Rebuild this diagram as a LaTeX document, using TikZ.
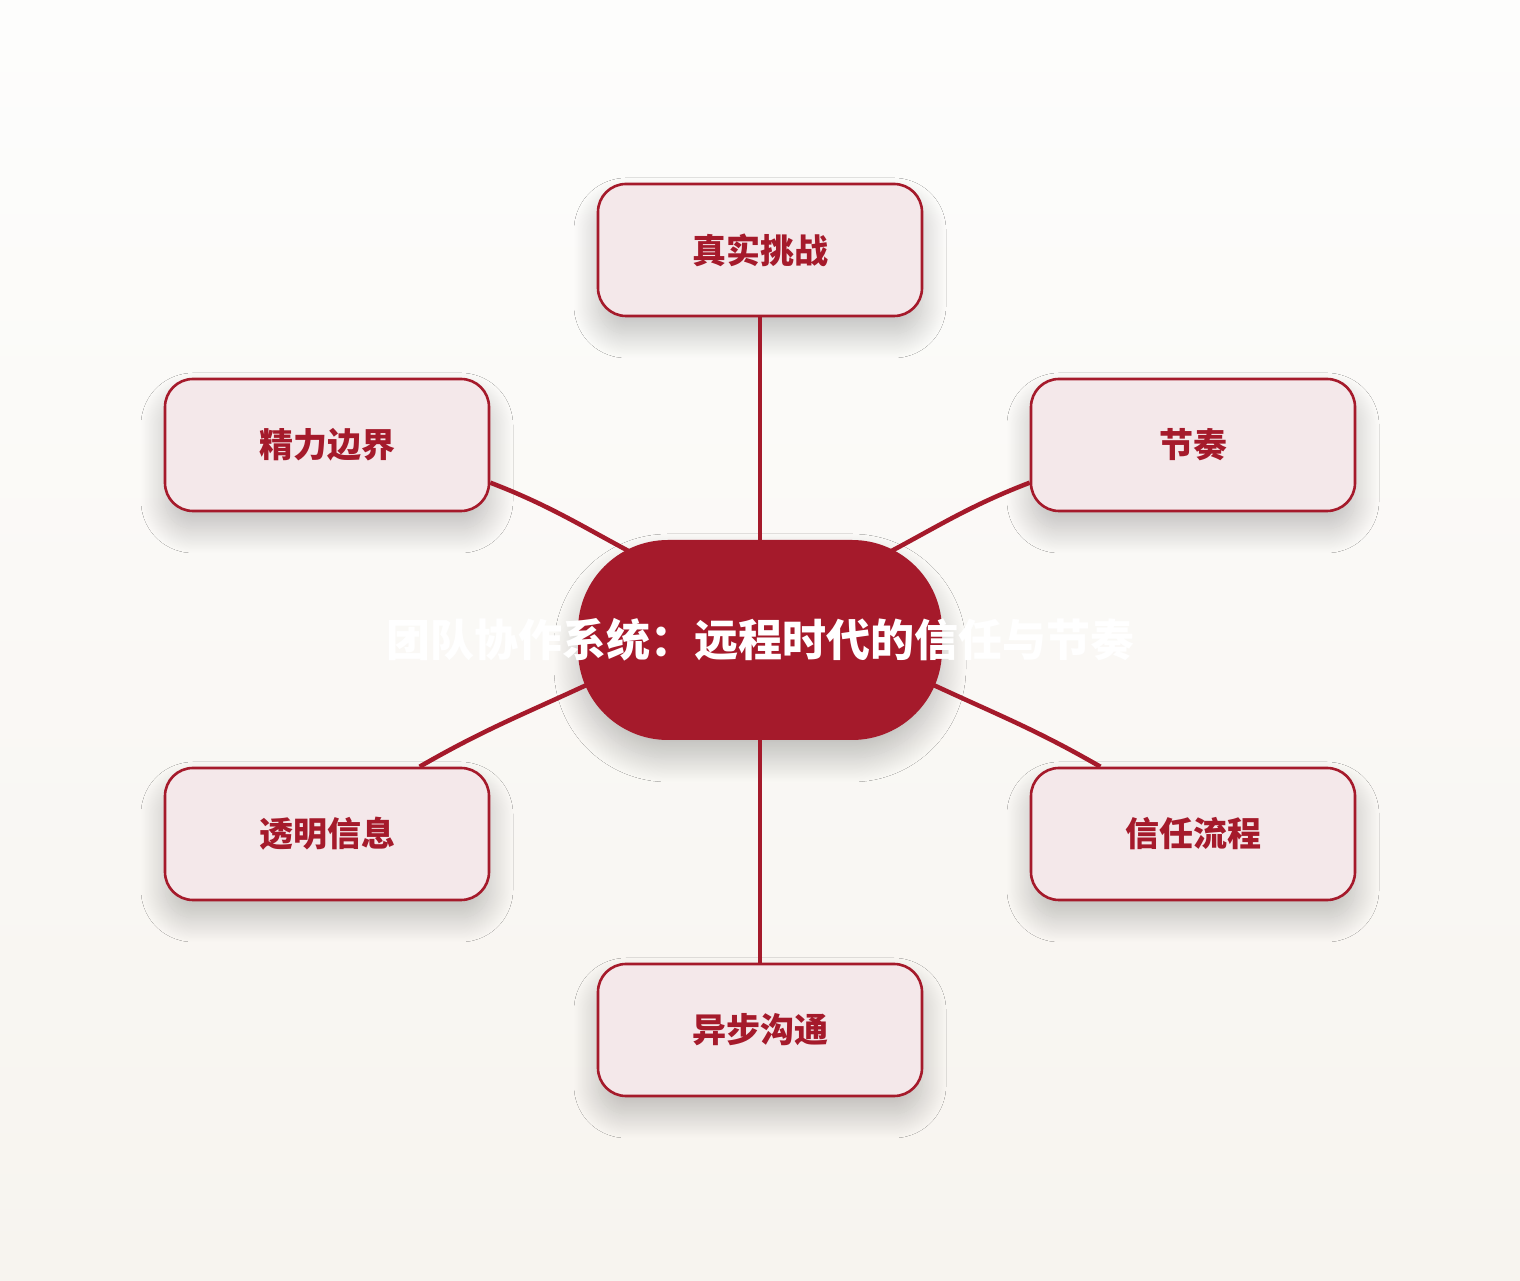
\documentclass[tikz,border=0pt]{standalone}
\usepackage{fontspec}
\newfontfamily\cjk{Noto Sans CJK SC}
\usetikzlibrary{calc,shadows.blur}
\definecolor{hubred}{HTML}{A51A2B}
\definecolor{petal}{HTML}{F4E8EA}
\definecolor{papertop}{HTML}{FDFDFC}
\definecolor{paperbot}{HTML}{F7F4EF}

\tikzset{
  soft/.style={blur shadow={shadow xshift=0pt, shadow yshift=-18pt, shadow blur radius=24pt,
    shadow opacity=24, shadow blur steps=30}},
  topic/.style={draw=hubred, line width=2.6pt, fill=petal, rounded corners=28pt,
    minimum width=324pt, minimum height=132pt, text=hubred,
    font=\cjk\bfseries\fontsize{34}{40}\selectfont, soft},
  hub/.style={fill=hubred, rounded corners=90pt, minimum width=364pt, minimum height=200pt,
    inner sep=0pt, text=white, font=\cjk\bfseries\fontsize{44}{52}\selectfont, soft},
  link/.style={draw=hubred, line width=4.5pt},
}

\begin{document}
\begin{tikzpicture}[x=1pt, y=1pt]
\fill[top color=papertop, bottom color=paperbot] (0,0) rectangle (1520,1280);

\node[hub] (hub) at (760,640) {\makebox[0pt]{团队协作系统：远程时代的信任与节奏}};

\node[topic] (zhenshi) at (760,1030) {真实挑战};
\node[topic] (jingli)  at (327,835)  {精力边界};
\node[topic] (jiezou)  at (1193,835) {节奏};
\node[topic] (touming) at (327,446)  {透明信息};
\node[topic] (xinren)  at (1193,446) {信任流程};
\node[topic] (yibu)    at (760,250)  {异步沟通};

% links end just inside the hub
\draw[link] (zhenshi.south) -- (hub.north);
\draw[link] (yibu.north) -- (hub.south);
\draw[link] (jingli.-13) to[out=-21, in=152] ($(hub.center)+(-124,85)$);
\draw[link] (jiezou.193) to[out=201, in=28] ($(hub.center)+(124,85)$);
\draw[link] (touming.36) to[out=30, in=-155] ($(hub.center)+(-167,-42)$);
\draw[link] (xinren.144) to[out=150, in=-25] ($(hub.center)+(167,-42)$);
\end{tikzpicture}
\end{document}
